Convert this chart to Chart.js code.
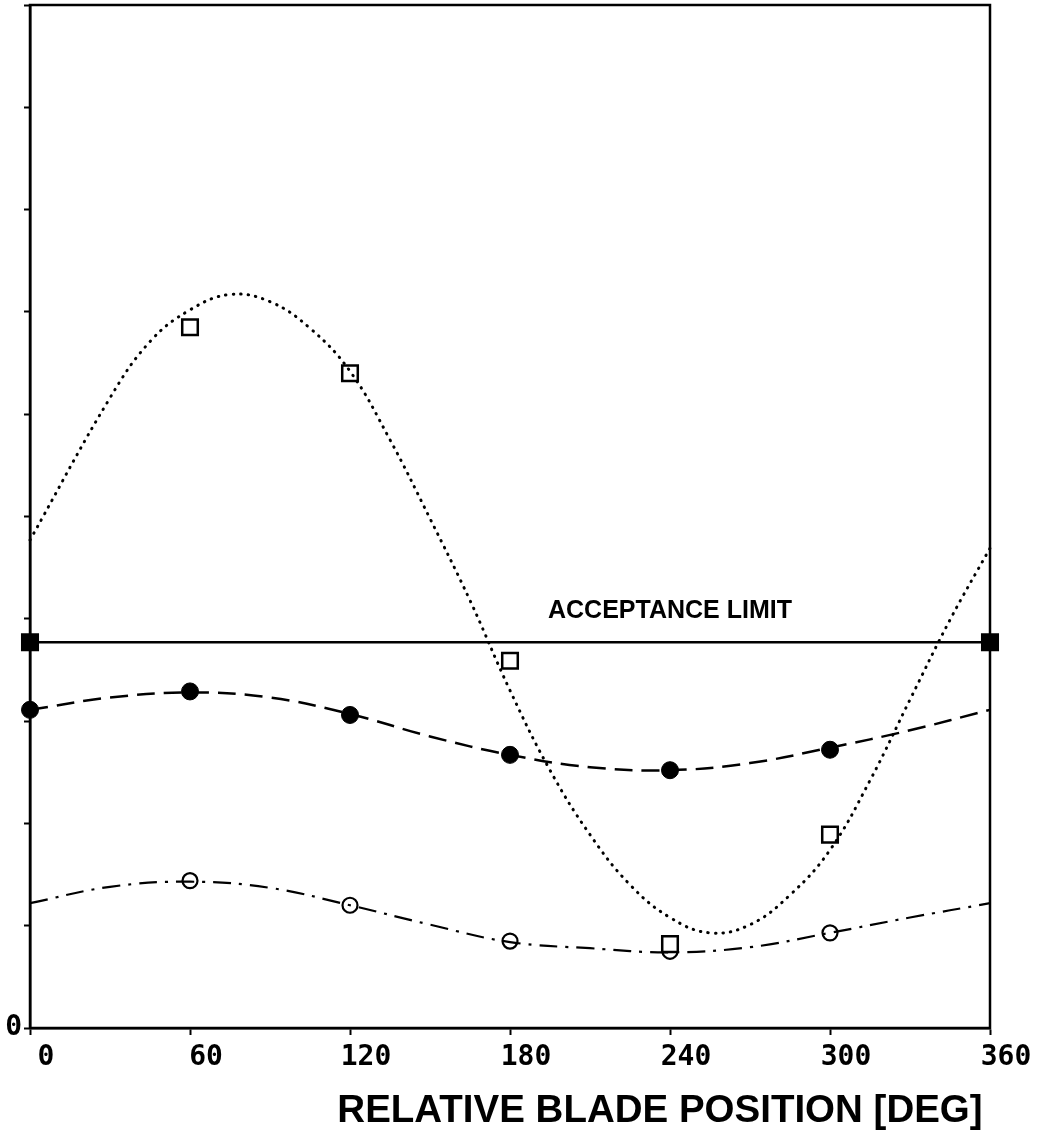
<!DOCTYPE html>
<html>
<head>
<meta charset="utf-8">
<script src="https://cdn.jsdelivr.net/npm/chart.js@4/dist/chart.umd.min.js"></script>
<style>
html, body { margin: 0; padding: 0; background: #fff; }
</style>
</head>
<body>
<canvas id="grafikBlade" width="1056" height="1137"></canvas>
<script>
/* ===== data ===== */
const xTicks = [0, 60, 120, 180, 240, 300, 360];
const xTitle = "RELATIVE BLADE POSITION [DEG]";
const limitLabel = "ACCEPTANCE LIMIT";

// measured points
const markAngles = [60, 120, 180, 240, 300];
const openSquares = [6.85, 6.40, 3.59, 0.82, 1.89];
const filledAngles = [0, 60, 120, 180, 240, 300];
const filledCircles = [3.11, 3.29, 3.06, 2.67, 2.52, 2.72];
const openCircles = [1.44, 1.20, 0.85, 0.75, 0.93];

// acceptance limit
const limitAngles = [0, 360];
const acceptLimit = [3.77, 3.77];

// fitted curves
const squareFitAngles = [0, 30, 45, 60, 75, 90, 105, 120, 135, 150, 165, 180, 195, 210, 225, 240, 255, 270, 285, 300, 315, 330, 345, 360];
const squareFit = [4.77, 6.16, 6.71, 7.02, 7.17, 7.10, 6.84, 6.42, 5.75, 4.98, 4.18, 3.30, 2.52, 1.89, 1.40, 1.08, 0.93, 1.01, 1.30, 1.74, 2.42, 3.21, 3.99, 4.69];
const fitAngles = [0, 30, 60, 90, 120, 150, 180, 210, 240, 270, 300, 330, 360];
const filledFit = [3.11, 3.23, 3.28, 3.23, 3.07, 2.85, 2.67, 2.55, 2.52, 2.59, 2.74, 2.91, 3.11];
const openFit = [1.22, 1.38, 1.43, 1.37, 1.20, 1.01, 0.84, 0.78, 0.74, 0.79, 0.93, 1.08, 1.22];

const pts = (xs, ys) => xs.map((x, i) => ({ x, y: ys[i] }));

/* ===== frame + annotation text ===== */
const frameAndText = {
    id: "frameAndText",
    afterDraw(chart) {
        const { ctx, chartArea: a, scales: { x, y } } = chart;
        ctx.save();
        ctx.strokeStyle = "#000";
        ctx.lineWidth = 2.5;
        ctx.strokeRect(a.left, a.top, a.right - a.left, a.bottom - a.top);

        ctx.fillStyle = "#000";
        ctx.textAlign = "center";
        ctx.textBaseline = "alphabetic";
        ctx.font = 'bold 25px "Liberation Sans", Arial, sans-serif';
        ctx.fillText(limitLabel, x.getPixelForValue(240), y.getPixelForValue(acceptLimit[0]) - 24);

        ctx.font = 'bold 38.5px "Liberation Sans", Arial, sans-serif';
        ctx.fillText(xTitle, 660, 1122);
        ctx.restore();
    }
};

const ctx = document.getElementById("grafikBlade").getContext("2d");

new Chart(ctx, {
    type: "scatter",
    data: {
        datasets: [
            {
                label: "fit squares",
                data: pts(squareFitAngles, squareFit),
                showLine: true,
                borderColor: "#000",
                borderWidth: 3,
                borderCapStyle: "round",
                borderDash: [0.5, 7],
                tension: 0.4,
                pointRadius: 0,
                clip: false
            },
            {
                label: "fit filled",
                data: pts(fitAngles, filledFit),
                showLine: true,
                borderColor: "#000",
                borderWidth: 2.5,
                borderDash: [18, 9],
                tension: 0.4,
                pointRadius: 0,
                clip: false
            },
            {
                label: "fit open",
                data: pts(fitAngles, openFit),
                showLine: true,
                borderColor: "#000",
                borderWidth: 2.2,
                borderDash: [18, 8, 3, 8],
                tension: 0.4,
                pointRadius: 0,
                clip: false
            },
            {
                label: "acceptance limit",
                data: pts(limitAngles, acceptLimit),
                showLine: true,
                borderColor: "#000",
                borderWidth: 2.5,
                pointStyle: "rect",
                pointRadius: 11,
                pointBackgroundColor: "#000",
                pointBorderColor: "#000",
                clip: false
            },
            {
                label: "open squares",
                data: pts(markAngles, openSquares),
                pointStyle: "rect",
                pointRadius: 11,
                pointBorderWidth: 2.5,
                pointBackgroundColor: "#fff",
                pointBorderColor: "#000",
                clip: false
            },
            {
                label: "filled circles",
                data: pts(filledAngles, filledCircles),
                pointStyle: "circle",
                pointRadius: 8.5,
                pointBackgroundColor: "#000",
                pointBorderColor: "#000",
                clip: false
            },
            {
                label: "open circles",
                data: pts(markAngles, openCircles),
                pointStyle: "circle",
                pointRadius: 7.5,
                pointBorderWidth: 2.2,
                pointBackgroundColor: "#fff",
                pointBorderColor: "#000",
                clip: false
            }
        ]
    },
    options: {
        responsive: false,
        animation: false,
        layout: { autoPadding: false, padding: { top: 5, right: 66, left: 0, bottom: 0 } },
        plugins: {
            legend: { display: false },
            tooltip: { enabled: false }
        },
        scales: {
            x: {
                type: "linear",
                min: 0,
                max: 360,
                afterBuildTicks: (s) => { s.ticks = xTicks.map(v => ({ value: v })); },
                afterFit: (s) => { s.height = 109; },
                border: { color: "#000", width: 2.5 },
                grid: { drawOnChartArea: false, color: "#000", tickLength: 7, tickWidth: 2 },
                ticks: {
                    color: "#000",
                    padding: 6,
                    labelOffset: 16,
                    maxRotation: 0,
                    font: { family: '"DejaVu Sans Mono", monospace', size: 28, weight: "bold" }
                }
            },
            y: {
                min: 0,
                max: 10,
                afterFit: (s) => { s.width = 30; },
                border: { color: "#000", width: 2.5 },
                grid: { drawOnChartArea: false, color: "#000", tickLength: 6, tickWidth: 2 },
                ticks: {
                    stepSize: 1,
                    color: "#000",
                    padding: 2,
                    callback: (v) => (v === 0 ? "0" : ""),
                    font: (c) => ({
                        family: '"DejaVu Sans Mono", monospace',
                        size: c.tick && c.tick.value === 0 ? 28 : 1,
                        weight: "bold"
                    })
                }
            }
        }
    },
    plugins: [frameAndText]
});
</script>
</body>
</html>
